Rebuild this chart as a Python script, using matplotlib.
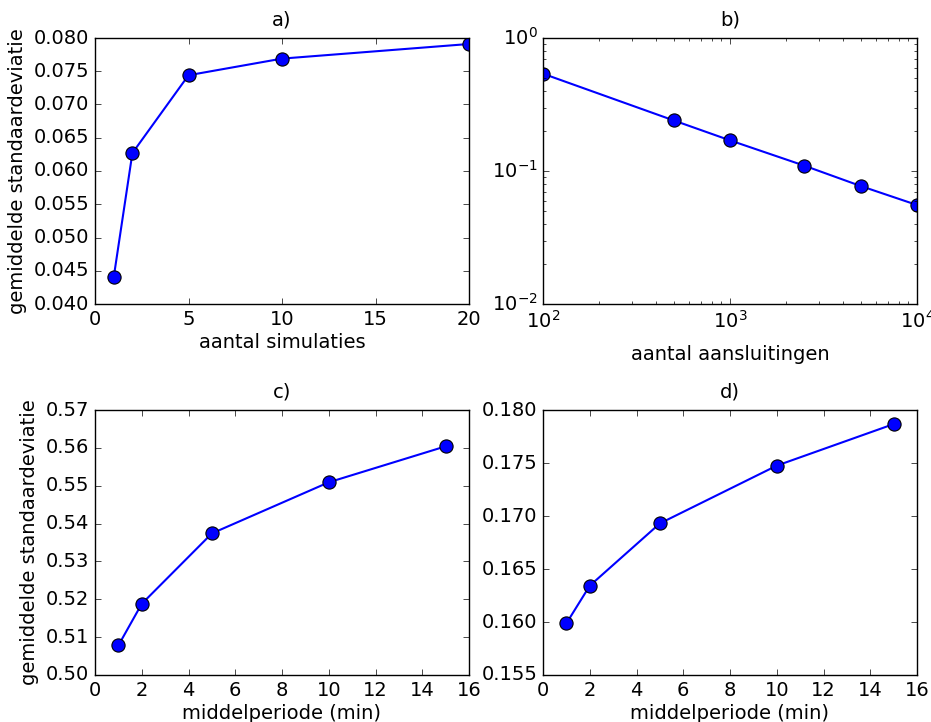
import numpy as np
import matplotlib
matplotlib.use('Agg')
import matplotlib.pyplot as plt

plt.style.use('classic')
plt.rcParams['font.size'] = 14
plt.rcParams['axes.titlesize'] = 14
plt.rcParams['axes.labelsize'] = 14
plt.rcParams['xtick.labelsize'] = 14
plt.rcParams['ytick.labelsize'] = 14

# a) aantal simulaties
sim_x = [1, 2, 5, 10, 20]
sim_y = [0.0440, 0.0627, 0.0744, 0.0769, 0.0791]

# b) aantal aansluitingen
aans_x = [100, 500, 1000, 2500, 5000, 10000]
aans_y = [0.539, 0.240, 0.170, 0.1096, 0.0771, 0.0555]

# c) en d) middelperiode
per_x = [1, 2, 5, 10, 15]
per_c = [0.5078, 0.5188, 0.5374, 0.5509, 0.5604]
per_d = [0.15987, 0.16342, 0.1693, 0.17475, 0.17867]

ylab = 'gemiddelde standaardeviatie'
style = dict(color='b', marker='o', markersize=9.5, linewidth=1.5,
             markerfacecolor='b', markeredgecolor='k', markeredgewidth=0.8)

fig = plt.figure(figsize=(9.31, 7.22), dpi=100, facecolor='white')
W, H = 931.0, 722.0
def box(l, r, t, b):
    return [l / W, 1 - b / H, (r - l) / W, (b - t) / H]

ax1 = fig.add_axes(box(95, 469, 38, 304))
ax2 = fig.add_axes(box(543, 917, 38, 304))
ax3 = fig.add_axes(box(95, 469, 410, 675))
ax4 = fig.add_axes(box(543, 917, 410, 675))

ax1.plot(sim_x, sim_y, **style)
ax1.set_xlim(0, 20)
ax1.set_ylim(0.040, 0.080)
ax1.set_xticks([0, 5, 10, 15, 20])
ax1.set_title('a)', pad=9)
ax1.set_xlabel('aantal simulaties', labelpad=3)
ax1.set_ylabel(ylab)

ax2.loglog(aans_x, aans_y, **style)
ax2.set_xlim(1e2, 1e4)
ax2.set_ylim(1e-2, 1e0)
ax2.set_title('b)', pad=9)
ax2.set_xlabel('aantal aansluitingen', labelpad=10)

ax3.plot(per_x, per_c, **style)
ax3.set_xlim(0, 16)
ax3.set_ylim(0.50, 0.57)
ax3.set_title('c)', pad=9)
ax3.set_xlabel('middelperiode (min)', labelpad=3)
ax3.set_ylabel(ylab)

ax4.plot(per_x, per_d, **style)
ax4.set_xlim(0, 16)
ax4.set_ylim(0.155, 0.180)
ax4.set_title('d)', pad=9)
ax4.set_xlabel('middelperiode (min)', labelpad=3)

for ax in (ax1, ax3, ax4):
    ax.yaxis.set_major_formatter(matplotlib.ticker.FormatStrFormatter(
        '%.3f' if ax is not ax3 else '%.2f'))

fig.savefig('out.png', dpi=100, facecolor='white')
